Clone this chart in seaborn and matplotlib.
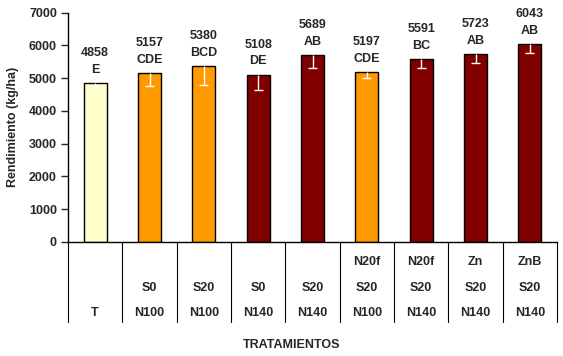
import matplotlib
matplotlib.use("Agg")
import matplotlib.pyplot as plt
import matplotlib.transforms as mtransforms
import seaborn as sns
import pandas as pd

# ---- data ----
row_top = ["", "", "", "", "", "N20f", "N20f", "Zn", "ZnB"]
row_mid = ["", "S0", "S20", "S0", "S20", "S20", "S20", "S20", "S20"]
row_bot = ["T", "N100", "N100", "N140", "N140", "N100", "N140", "N140", "N140"]
yields = [4858, 5157, 5380, 5108, 5689, 5197, 5591, 5723, 6043]
errors = [185, 405, 590, 470, 390, 200, 275, 250, 280]
letters = ["E", "CDE", "BCD", "DE", "AB", "CDE", "BC", "AB", "AB"]
bar_colors = ["#FFFFCC", "#FF9900", "#FF9900", "#800000", "#800000",
              "#FF9900", "#800000", "#800000", "#800000"]
yticks = [0, 1000, 2000, 3000, 4000, 5000, 6000, 7000]

sns.set_style("white")
plt.rcParams['font.family'] = ['Liberation Sans', 'DejaVu Sans']
plt.rcParams['font.weight'] = 'bold'
FS = 9

cats = [f"c{i}" for i in range(len(yields))]
df = pd.DataFrame({"cat": cats, "val": yields})

fig = plt.figure(figsize=(5.63, 3.56), dpi=100)
ax = fig.add_axes([68/563, 1-242/356, 489/563, 229.5/356])

sns.barplot(data=df, x="cat", y="val", hue="cat", palette=bar_colors,
            saturation=1, legend=False, edgecolor="black", linewidth=1.0,
            width=0.42, ax=ax, errorbar=None)

# white error bars: only the part inside the bar is visible (lower half + cap)
xs = list(range(len(yields)))
lows = [v - e for v, e in zip(yields, errors)]
ax.vlines(xs, lows, yields, colors="white", linewidth=1.0, zorder=5)
ax.hlines(lows, [x - 0.08 for x in xs], [x + 0.08 for x in xs],
          colors="white", linewidth=1.0, zorder=5)

for i, (v, l) in enumerate(zip(yields, letters)):
    ax.annotate(str(v), (i, v), xytext=(0, 21.6), textcoords="offset points",
                ha="center", va="center", fontsize=FS, fontweight="bold")
    ax.annotate(l, (i, v), xytext=(0, 9.4), textcoords="offset points",
                ha="center", va="center", fontsize=FS, fontweight="bold")

ax.set_xlim(-0.5, len(yields) - 0.5)
ax.set_ylim(0, 7000)
ax.set_yticks(yticks)
ax.set_yticklabels([str(t) for t in yticks], fontsize=FS, fontweight="bold")
ax.tick_params(axis="y", direction="out", length=5, width=1, pad=3, left=True)
ax.set_xticks([])
ax.set_xlabel("")
ax.set_ylabel("Rendimiento (kg/ha)", fontsize=FS, fontweight="bold")
ax.yaxis.set_label_coords(-0.100, 0.5)

for s in ["top", "right"]:
    ax.spines[s].set_visible(False)
for s in ["left", "bottom"]:
    ax.spines[s].set_color("black")
    ax.spines[s].set_linewidth(1.0)

# table beneath the axis
trans = mtransforms.blended_transform_factory(ax.transData, ax.transAxes)
for k in range(len(yields) + 1):
    ax.plot([k - 0.5, k - 0.5], [0, -0.349], transform=trans, color="black",
            lw=0.8, clip_on=False)
for i in range(len(yields)):
    for txt, yy in ((row_top[i], -0.087), (row_mid[i], -0.200), (row_bot[i], -0.309)):
        if txt:
            ax.text(i, yy, txt, transform=trans, ha="center", va="center",
                    fontsize=FS, fontweight="bold")

fig.text(292/563, 1 - 345/356, "TRATAMIENTOS", ha="center", va="center",
         fontsize=FS, fontweight="bold")

fig.savefig("out.png", dpi=100)
